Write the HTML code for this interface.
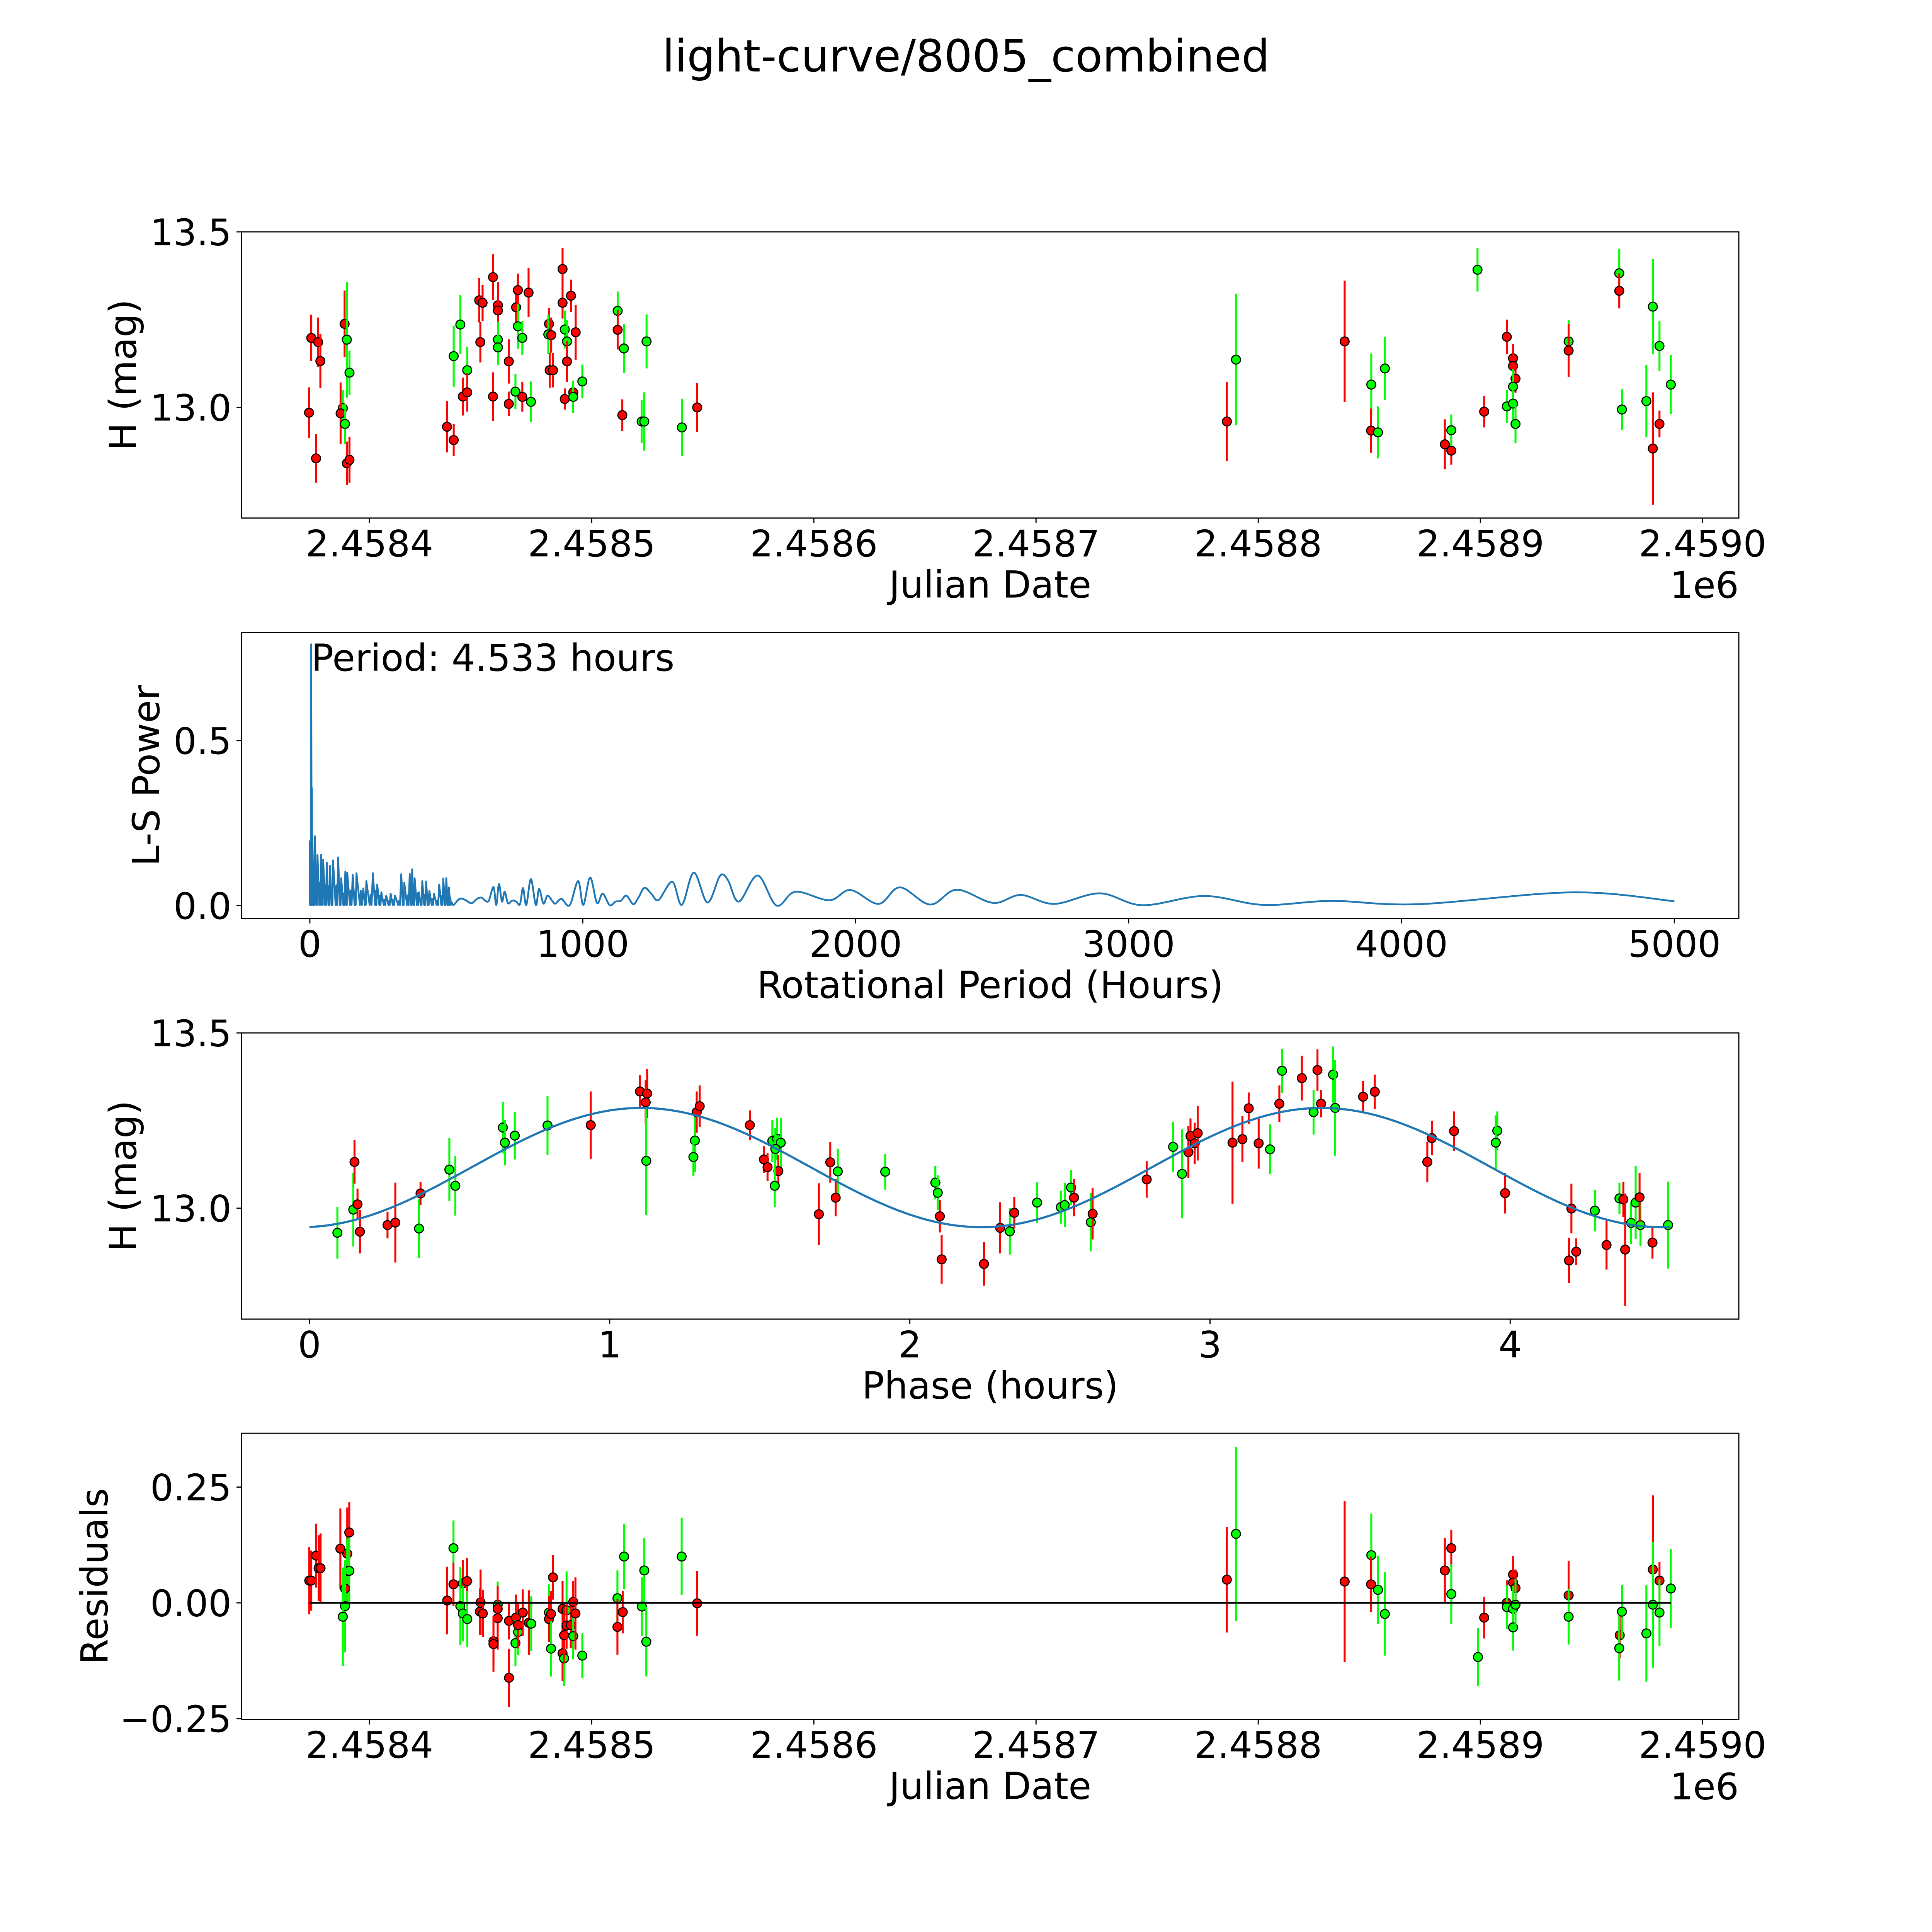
<!DOCTYPE html>
<html><head><meta charset="utf-8">
<style>
html,body{margin:0;padding:0;background:#fff;overflow:hidden;width:100vw;height:100vh;}
svg{display:block;width:100vw;height:100vh;}
text{font-family:"DejaVu Sans","Liberation Sans",sans-serif;fill:#000;}
</style></head>
<body>
<svg id="fig" xmlns="http://www.w3.org/2000/svg" viewBox="0 0 5400 5400" preserveAspectRatio="none">
<rect x="0" y="0" width="5400" height="5400" fill="#fff"/>
<text x="2700" y="200" font-size="124" text-anchor="middle">light-curve/8005_combined</text>
</svg>
<script>
// ---- Panel 1: light curve (JD offset from 2458000, magnitude, error, colour) ----
const lcJd = [373.8,376.9,377.9,372.8,375.96,388.8,389.8,391.0,388.0,387.0,389.0,389.8,391.0,434.9,437.9,437.9,440.9,444.0,442.0,444.0,449.9,449.4,450.9,455.6,457.8,457.8,457.8,457.8,455.6,462.7,462.7,465.7,468.8,472.7,466.0,466.8,466.8,468.8,471.6,480.8,480.5,481.8,481.1,482.6,486.9,486.9,490.7,487.9,488.9,488.9,492.8,487.9,491.7,491.7,495.8,511.7,511.7,514.5,513.8,522.5,523.7,524.7,540.6,547.5,
785.9,790.0,838.9,850.9,850.8,853.9,857.0,884.0,886.9,886.9,898.7,901.7,911.9,911.9,914.7,914.7,915.8,914.7,914.7,915.8,939.7,939.7,962.5,962.5,963.7,974.7,977.6,977.6,980.6,980.6,985.7];
const lcMag = [13.198,13.186,13.132,12.985,12.855,13.238,13.193,13.099,12.998,12.983,12.953,12.841,12.851,12.945,12.907,13.146,13.236,13.106,13.031,13.043,13.186,13.305,13.298,13.371,13.291,13.276,13.193,13.171,13.031,13.131,13.010,13.045,13.030,13.016,13.285,13.334,13.231,13.198,13.327,13.238,13.208,13.206,13.106,13.106,13.394,13.298,13.318,13.222,13.188,13.131,13.214,13.024,13.043,13.030,13.074,13.275,13.221,13.168,12.978,12.960,12.960,13.188,12.943,13.000,
12.960,13.136,13.188,13.065,12.934,12.929,13.111,12.895,12.877,12.935,13.392,12.988,13.201,13.003,13.140,13.118,13.082,13.059,13.011,12.953,13.188,13.162,13.382,13.332,12.994,13.018,13.287,12.883,13.175,12.953,13.065];
const lcErr = [0.066,0.07,0.077,0.072,0.069,0.095,0.165,0.063,0.052,0.088,0.057,0.062,0.065,0.073,0.046,0.087,0.084,0.067,0.054,0.055,0.058,0.063,0.051,0.065,0.066,0.06,0.051,0.05,0.069,0.063,0.035,0.05,0.042,0.058,0.044,0.047,0.064,0.048,0.07,0.045,0.056,0.05,0.05,0.049,0.06,0.045,0.046,0.054,0.06,0.058,0.078,0.03,0.033,0.046,0.048,0.055,0.056,0.07,0.045,0.061,0.083,0.077,0.082,0.07,
0.113,0.187,0.173,0.089,0.063,0.074,0.09,0.071,0.04,0.045,0.062,0.045,0.049,0.047,0.04,0.04,0.04,0.05,0.05,0.055,0.06,0.075,0.07,0.05,0.058,0.103,0.136,0.16,0.072,0.038,0.084];
const lcCol = ["r","r","r","r","r","r","g","g","g","r","g","r","r","r","r","g","g","g","r","r","r","r","r","r","r","r","g","g","r","r","r","g","r","g","r","r","g","g","r","r","g","r","r","r","r","r","r","g","g","r","r","r","r","g","g","g","r","g","r","g","g","g","g","r",
"r","g","r","g","r","g","g","r","r","g","g","r","r","g","r","r","r","g","g","g","g","r","g","r","g","g","g","r","g","r","g"];
const jdTicks = [400,500,600,700,800,900,1000];
const jdTickLabels = ["2.4584","2.4585","2.4586","2.4587","2.4588","2.4589","2.4590"];
const magTicks = [13.0,13.5];
const magTickLabels = ["13.0","13.5"];

// ---- Panel 2: Lomb-Scargle periodogram ----
const lsNoiseP = [0,5,9,19,28,41,49,62,74,85,104,115,130,137,157,171,196,207,231,247,262,280,296,312,335,346,366,375,384,400,412,426,438,455,474,489,500,510];
const lsNoisePow = [0.195,0.792,0.215,0.21,0.153,0.154,0.139,0.13,0.12,0.137,0.146,0.083,0.103,0.10,0.093,0.098,0.052,0.074,0.098,0.064,0.04,0.03,0.036,0.03,0.095,0.069,0.096,0.11,0.083,0.04,0.074,0.073,0.044,0.035,0.064,0.082,0.083,0.055];
const lsSmoothP = [520,527,548,567,592,612,629,644,656,673,683,693,704,714,726,741,756,770,781,793,810,828,840,856,871,890,900,922,952,983,1002,1027,1052,1073,1099,1120,1139,1160,1185,1204,1226,1251,1278,1328,1363,1407,1457,1503,1532,1572,1641,1710,1780,1903,1981,2084,2162,2273,2370,2504,2605,2728,2895,3051,3277,3494,3744,4060,4626,5000];
const lsSmoothPow = [0.01,0.002,0.02,0.018,0.007,0.02,0.024,0.014,0.015,0.056,0.002,0.065,0.012,0.042,0.007,0.015,0.012,0.004,0.053,0.002,0.08,0.002,0.05,0.006,0.03,0.012,0.006,0.02,0.001,0.074,0.002,0.085,0.008,0.036,0.001,0.012,0.014,0.03,0.004,0.024,0.054,0.036,0.017,0.072,0.002,0.1,0.009,0.09,0.077,0.012,0.091,0.0,0.042,0.016,0.047,0.005,0.055,0.003,0.048,0.008,0.032,0.005,0.037,0.001,0.029,0.002,0.014,0.004,0.040,0.013];
const lsXTicks = [0,1000,2000,3000,4000,5000];
const lsYTicks = [0.0,0.5];
const bestPeriodLabel = "Period: 4.533 hours";

// ---- Panel 3: phased light curve ----
const phHours = [0.093,0.146,0.150,0.160,0.168,0.26,0.286,0.365,0.370,0.466,0.486,0.644,0.651,0.684,0.793,0.937,1.101,1.125,1.120,1.122,1.284,1.279,1.290,1.300,1.467,1.542,1.558,1.570,1.552,1.514,1.526,1.562,1.550,1.697,1.735,1.760,1.753,1.918,2.085,2.093,2.100,2.106,2.247,2.301,
2.333,2.348,2.424,2.503,2.516,2.537,2.547,2.603,2.609,2.789,2.877,2.907,2.928,2.935,2.949,2.959,3.075,3.108,3.129,3.162,3.200,3.231,3.240,3.306,3.358,3.370,3.345,3.410,3.417,3.510,3.549,3.739,3.724,3.813,3.957,3.952,3.983,4.204,4.196,4.220,4.282,4.321,4.364,4.377,4.383,4.403,4.418,4.434,4.431,4.474,4.526];
const phMag = [12.930,12.996,13.132,13.011,12.933,12.952,12.959,12.942,13.042,13.110,13.064,13.230,13.187,13.207,13.236,13.237,13.333,13.327,13.302,13.135,13.193,13.146,13.274,13.291,13.237,13.192,13.198,13.187,13.169,13.139,13.117,13.106,13.064,12.983,13.131,13.105,13.030,13.104,13.073,13.044,12.977,12.854,12.841,12.944,
12.934,12.987,13.016,13.003,13.009,13.059,13.030,12.960,12.984,13.082,13.175,13.098,13.160,13.206,13.185,13.214,13.187,13.197,13.285,13.185,13.168,13.298,13.392,13.371,13.394,13.298,13.274,13.381,13.286,13.318,13.332,13.200,13.132,13.220,13.221,13.187,13.043,12.999,12.851,12.876,12.993,12.895,13.028,13.025,12.882,12.958,13.016,12.952,13.031,12.902,12.952];
const phErr = [0.074,0.105,0.062,0.045,0.062,0.038,0.114,0.084,0.033,0.09,0.085,0.074,0.065,0.068,0.084,0.096,0.047,0.07,0.063,0.154,0.09,0.055,0.059,0.059,0.042,0.06,0.06,0.07,0.06,0.038,0.04,0.045,0.06,0.088,0.058,0.065,0.053,0.051,0.048,0.05,0.046,0.069,0.062,0.073,
0.066,0.045,0.058,0.047,0.063,0.05,0.053,0.083,0.073,0.052,0.072,0.127,0.074,0.05,0.059,0.078,0.174,0.066,0.045,0.072,0.071,0.052,0.063,0.064,0.059,0.039,0.064,0.08,0.136,0.045,0.049,0.049,0.058,0.056,0.055,0.078,0.058,0.071,0.065,0.038,0.059,0.07,0.045,0.05,0.16,0.06,0.104,0.06,0.07,0.046,0.124];
const phCol = ["g","g","r","r","r","r","r","g","r","g","g","g","g","g","g","r","r","r","r","g","g","g","r","r","r","g","g","g","g","r","r","r","g","r","r","g","r","g","g","g","r","r","r","r",
"g","r","g","g","g","g","r","g","r","r","g","g","r","r","r","r","r","r","r","r","g","r","g","r","r","r","g","g","g","r","r","r","r","r","g","g","r","r","r","r","g","r","g","r","r","g","g","g","r","r","g"];
const modelMean = 13.116;
const modelAmp = 0.170;
const modelPeak = 1.105;
const modelPeriod = 4.533;
const phTicks = [0,1,2,3,4];

// ---- Panel 4: residuals ----
const resJd = [372.9,373.8,376.0,377.1,377.98,386.9,390.0,390.9,390.0,390.9,389.0,389.0,388.0,
435.0,437.8,437.8,442.0,443.9,440.9,442.0,444.0,450.0,449.7,451.0,457.7,457.7,457.7,455.8,455.8,462.8,462.8,465.9,465.7,466.9,466.9,469.0,471.7,472.8,480.8,480.8,481.7,481.7,482.6,486.9,486.9,487.6,488.7,487.6,488.7,490.6,491.7,491.7,492.7,495.8,511.6,511.6,514.0,514.6,522.6,523.7,524.6,540.5,547.5,
785.9,790.0,838.9,850.9,850.8,853.9,857.0,884.0,886.9,886.9,898.9,901.7,911.9,911.9,914.7,914.7,915.8,914.7,914.7,915.8,939.7,939.7,962.7,962.5,963.7,974.7,977.6,977.6,980.6,980.6,985.7];
const resVal = [0.048,0.048,0.102,0.075,0.075,0.117,0.106,0.152,0.069,0.069,0.031,-0.007,-0.030,
0.005,0.118,0.040,0.042,0.047,-0.007,-0.023,-0.035,0.001,-0.019,-0.023,-0.004,-0.013,-0.033,-0.083,-0.089,-0.039,-0.162,-0.032,-0.087,-0.063,-0.048,-0.021,-0.043,-0.045,-0.021,-0.035,-0.024,-0.099,0.055,-0.013,-0.109,-0.120,-0.016,-0.070,-0.049,-0.048,0.002,-0.072,-0.023,-0.114,0.010,-0.052,-0.020,0.100,-0.008,0.070,-0.084,0.100,-0.001,
0.050,0.149,0.046,0.103,0.040,0.028,-0.024,0.070,0.118,0.019,-0.117,-0.032,0.000,-0.009,0.061,0.044,0.032,-0.013,-0.053,-0.004,0.016,-0.030,-0.070,-0.098,-0.019,-0.066,0.072,-0.004,0.048,-0.021,0.031];
const resErr = [0.073,0.065,0.069,0.071,0.075,0.087,0.1,0.065,0.07,0.072,0.05,0.1,0.106,
0.073,0.06,0.047,0.05,0.05,0.084,0.06,0.06,0.071,0.05,0.051,0.05,0.05,0.068,0.05,0.06,0.04,0.063,0.05,0.05,0.05,0.05,0.05,0.07,0.059,0.061,0.05,0.05,0.06,0.048,0.06,0.06,0.06,0.084,0.06,0.05,0.05,0.045,0.05,0.078,0.048,0.06,0.06,0.046,0.071,0.063,0.07,0.075,0.083,0.07,
0.114,0.188,0.174,0.09,0.06,0.074,0.09,0.07,0.04,0.064,0.063,0.045,0.049,0.047,0.04,0.04,0.04,0.05,0.05,0.055,0.075,0.06,0.05,0.07,0.058,0.104,0.16,0.136,0.04,0.072,0.085];
const resCol = ["r","r","r","r","r","r","r","r","g","g","r","g","g",
"r","g","r","r","r","g","g","g","r","r","r","g","r","r","r","r","r","r","r","g","g","r","r","r","g","g","r","r","g","r","r","r","g","g","r","r","r","r","g","r","g","g","r","r","g","g","g","g","g","r",
"r","g","r","g","r","g","g","r","r","g","g","r","r","g","r","r","r","g","g","g","r","g","r","g","g","g","r","g","r","g","g"];
const resTicks = [0.25,0.0,-0.25];
const resTickLabels = ["0.25","0.00","\u22120.25"];

// ---------------- drawing ----------------
const NS = "http://www.w3.org/2000/svg";
const svg = document.getElementById("fig");
const L = 675, R = 4860;
const COLORS = {r:"#ff0000", g:"#00ff00"};
function mk(tag, attrs, parent){
  const e = document.createElementNS(NS, tag);
  for (const k in attrs) e.setAttribute(k, attrs[k]);
  (parent||svg).appendChild(e);
  return e;
}
function lin(d0,d1,p0,p1){ return v => p0 + (v-d0)*(p1-p0)/(d1-d0); }

const panels = [
  {top:648, bot:1448, name:"light-curve-panel"},
  {top:1768, bot:2567, name:"periodogram-panel"},
  {top:2887, bot:3687, name:"phase-panel"},
  {top:4006, bot:4806, name:"residuals-panel"}
];
const groups = panels.map(p => {
  const g = mk("g", {});
  
  
  return g;
});
const clips = panels.map((p,i) => {
  const cp = mk("clipPath", {id:"clip"+i});
  mk("rect", {x:L, y:p.top, width:R-L, height:p.bot-p.top}, cp);
  return "url(#clip"+i+")";
});

function drawXTicks(g, p, vals, labels, sx){
  vals.forEach((v,i) => {
    const x = sx(v);
    const t = mk("line", {x1:x, x2:x, y1:p.bot, y2:p.bot+14, stroke:"#000", "stroke-width":3.2}, g);
    
    
    const tx = mk("text", {x:x, y:p.bot+107, "font-size":102, "text-anchor":"middle"}, g);
    
    
    tx.textContent = labels[i];
  });
}
function drawYTicks(g, p, vals, labels, sy){
  vals.forEach((v,i) => {
    const y = sy(v);
    const t = mk("line", {x1:L-14, x2:L, y1:y, y2:y, stroke:"#000", "stroke-width":3.2}, g);
    
    
    const tx = mk("text", {x:L-28, y:y+37, "font-size":102, "text-anchor":"end"}, g);
    
    
    tx.textContent = labels[i];
  });
}
function frame(g, p){
  const r = mk("rect", {x:L, y:p.top, width:R-L, height:p.bot-p.top, fill:"none", stroke:"#000", "stroke-width":3.2}, g);
  
  
}
function xlabel(g, p, txt, name){
  const t = mk("text", {x:(L+R)/2, y:p.bot+222, "font-size":104, "text-anchor":"middle"}, g);
  
  
  t.textContent = txt;
}
function ylabel(g, p, txt, bx, name){
  const cy = (p.top+p.bot)/2;
  const t = mk("text", {x:bx, y:cy, "font-size":104, "text-anchor":"middle", transform:"rotate(-90 "+bx+" "+cy+")"}, g);
  
  
  t.textContent = txt;
}
function offsetText(g, p){
  const t = mk("text", {x:R, y:p.bot+223, "font-size":102, "text-anchor":"end"}, g);
  
  
  t.textContent = "1e6";
}
function errPoint(g, clip, x, y0, y1, yc, col){
  const gg = mk("g", {"clip-path":clip}, g);
  
  
  mk("line", {x1:x, x2:x, y1:y0, y2:y1, stroke:COLORS[col], "stroke-width":5.5}, gg);
  mk("circle", {cx:x, cy:yc, r:12.5, fill:COLORS[col], stroke:"#000", "stroke-width":3}, gg);
}

// Panel 1
(function(){
  const p = panels[0], g = groups[0];
  const sx = lin(342.4, 1016.3, L, R), sy = lin(12.685, 13.5, p.bot, p.top);
  lcJd.forEach((d,i) => errPoint(g, clips[0], sx(d), sy(lcMag[i]+lcErr[i]), sy(lcMag[i]-lcErr[i]), sy(lcMag[i]), lcCol[i]));
  frame(g,p);
  drawXTicks(g,p,jdTicks,jdTickLabels,sx);
  drawYTicks(g,p,magTicks,magTickLabels,sy);
  offsetText(g,p);
  xlabel(g,p,"Julian Date","x-axis-title-julian-date");
  ylabel(g,p,"H (mag)",380,"y-axis-title-h-mag");
})();

// Panel 2
(function(){
  const p = panels[1], g = groups[1];
  const sx = lin(0, 5000, 866, 4680), sy = lin(0, 0.5, 2531, 2070);
  let d = "M"+sx(lsNoiseP[0])+","+sy(0);
  lsNoiseP.forEach((P,i) => {
    d += " L"+sx(P).toFixed(1)+","+sy(lsNoisePow[i]).toFixed(1);
    const nxt = i+1 < lsNoiseP.length ? lsNoiseP[i+1] : P+8;
    const mid = (P+nxt)/2;
    d += " L"+sx(mid).toFixed(1)+","+sy(0.002).toFixed(1);
    d += " L"+sx(mid+ (nxt-P)*0.15).toFixed(1)+","+sy(lsNoisePow[i]*0.45).toFixed(1);
    d += " L"+sx(mid+ (nxt-P)*0.3).toFixed(1)+","+sy(0.002).toFixed(1);
  });
  const pts = lsSmoothP.map((P,i)=>[sx(P), sy(lsSmoothPow[i])]);
  for (let i=0;i<pts.length;i++){
    if (i===0){ d += " L"+pts[0][0].toFixed(1)+","+pts[0][1].toFixed(1); continue; }
    const p0 = pts[Math.max(0,i-2)], p1 = pts[i-1], p2 = pts[i], p3 = pts[Math.min(pts.length-1,i+1)];
    const c1x = p1[0]+(p2[0]-p0[0])/6, c1y = p1[1]+(p2[1]-p0[1])/6;
    const c2x = p2[0]-(p3[0]-p1[0])/6, c2y = p2[1]-(p3[1]-p1[1])/6;
    d += " C"+c1x.toFixed(1)+","+c1y.toFixed(1)+" "+c2x.toFixed(1)+","+c2y.toFixed(1)+" "+p2[0].toFixed(1)+","+p2[1].toFixed(1);
  }
  const path = mk("path", {d:d, fill:"none", stroke:"#1f77b4", "stroke-width":5, "stroke-linejoin":"round", "clip-path":clips[1]}, g);
  
  
  frame(g,p);
  drawXTicks(g,p,lsXTicks,lsXTicks.map(String),sx);
  drawYTicks(g,p,lsYTicks,lsYTicks.map(v=>v.toFixed(1)),sy);
  const t = mk("text", {x:sx(5), y:1875, "font-size":104}, g);
  
  
  t.textContent = bestPeriodLabel;
  xlabel(g,p,"Rotational Period (Hours)","x-axis-title-rotational-period");
  ylabel(g,p,"L-S Power",445,"y-axis-title-ls-power");
})();

// Panel 3
(function(){
  const p = panels[2], g = groups[2];
  const sx = lin(0, 1, 865, 1704), sy = lin(13.0, 13.5, 3377, 2887);
  phHours.forEach((h,i) => errPoint(g, clips[2], sx(h), sy(phMag[i]+phErr[i]), sy(phMag[i]-phErr[i]), sy(phMag[i]), phCol[i]));
  let d = "";
  for (let k=0;k<=300;k++){
    const t = modelPeriod*k/300;
    const m = modelMean + modelAmp*Math.cos(4*Math.PI*(t-modelPeak)/modelPeriod);
    d += (k?" L":"M")+sx(t).toFixed(1)+","+sy(m).toFixed(1);
  }
  const path = mk("path", {d:d, fill:"none", stroke:"#1f77b4", "stroke-width":6, "clip-path":clips[2]}, g);
  
  
  frame(g,p);
  drawXTicks(g,p,phTicks,phTicks.map(String),sx);
  drawYTicks(g,p,magTicks,magTickLabels,sy);
  xlabel(g,p,"Phase (hours)","x-axis-title-phase");
  ylabel(g,p,"H (mag)",380,"y-axis-title-h-mag-phase");
})();

// Panel 4
(function(){
  const p = panels[3], g = groups[3];
  const sx = lin(342.4, 1016.3, L, R), sy = lin(0, 0.25, 4480, 4156.5);
  resJd.forEach((d,i) => errPoint(g, clips[3], sx(d), sy(resVal[i]+resErr[i]), sy(resVal[i]-resErr[i]), sy(resVal[i]), resCol[i]));
  const zl = mk("line", {x1:sx(Math.min(...resJd)), x2:sx(Math.max(...resJd)), y1:sy(0), y2:sy(0), stroke:"#000", "stroke-width":5}, g);
  
  
  frame(g,p);
  drawXTicks(g,p,jdTicks,jdTickLabels,sx);
  drawYTicks(g,p,resTicks,resTickLabels,sy);
  offsetText(g,p);
  xlabel(g,p,"Julian Date","x-axis-title-julian-date-residuals");
  ylabel(g,p,"Residuals",300,"y-axis-title-residuals");
})();
</script>
</body></html>
